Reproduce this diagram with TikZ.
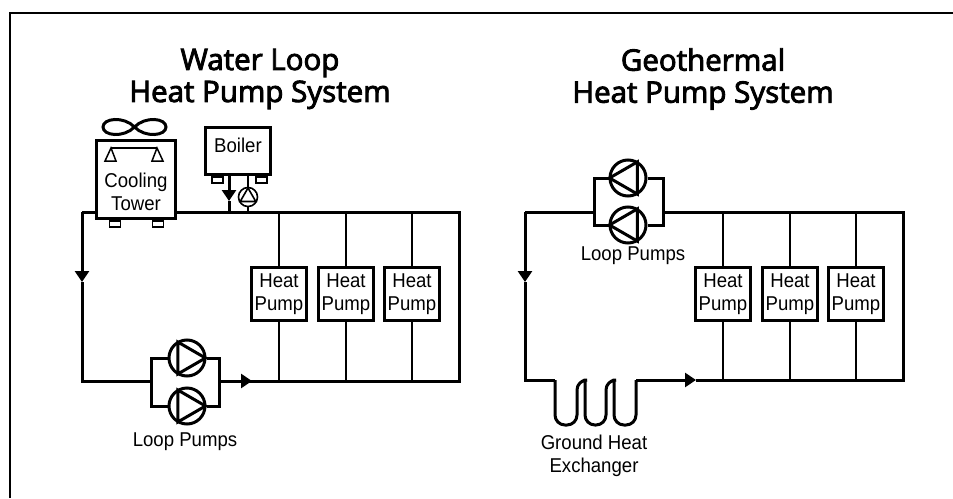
\documentclass[tikz,border=0pt]{standalone}
\usepackage{fontspec}
\setmainfont[FakeStretch=0.93]{Liberation Sans}
\newfontfamily\titlefont[FakeBold=3]{Open Sans}
\usetikzlibrary{arrows.meta}
\NewDocumentCommand\pumptri{mm}{%
  \draw[pipe,shift={(#1.center)},rotate=#2] (0:18.5pt) -- (120:18.5pt) -- (240:18.5pt) -- cycle;}
\tikzset{
  pipe/.style={line width=3pt,line join=miter},
  branch/.style={line width=1.6pt},
  flow/.style={pipe,-{Triangle[length=11pt,width=14pt]}},
  unitbox/.style={draw,line width=3pt,fill=white,inner sep=0pt,align=center,
    font=\fontsize{20}{23}\selectfont},
  hpbox/.style={unitbox,line width=3.4pt,minimum width=55pt,minimum height=53pt},
  footbox/.style={draw,line width=1.5pt,fill=white,inner sep=0pt,
    minimum width=11pt,minimum height=6pt,anchor=north},
  pumpnode/.style={draw,circle,line width=3pt,inner sep=0pt,minimum size=36pt},
  labeltext/.style={align=center,font=\fontsize{20}{23}\selectfont},
  titletext/.style={align=center,font=\titlefont\fontsize{29.5}{32}\selectfont},
}
\begin{document}
\begin{tikzpicture}[x=1pt,y=-1pt]
      \useasboundingbox (0,0) rectangle (953,498);
      \draw[line width=2pt] (10,498) -- (10,13) -- (953,13);
      \node[titletext] (watertitle) at (260,79) {Water Loop\\Heat Pump System};
      \node[titletext] (geotitle) at (703,79) {Geothermal\\Heat Pump System};
      % water loop
      \coordinate (wtl) at (82,212);
      \coordinate (wtr) at (459,212);
      \coordinate (wbr) at (459,381);
      \coordinate (wbl) at (82,381);
      \coordinate (wdown) at (82,282);
      \coordinate (wright) at (252,381);
      \coordinate (wleftbus) at (151,381);
      \coordinate (wrightbus) at (219,381);
      \node[pumpnode] (wpumpa) at (187,358) {};
      \node[pumpnode] (wpumpb) at (187,406) {};
      \pumptri{wpumpa}{0}
      \pumptri{wpumpb}{0}
      \node[footbox] (coolfeeta) at (115,220) {};
      \node[footbox] (coolfeetb) at (158,220) {};
      \node[unitbox,minimum width=79pt,minimum height=78pt] (cooling) at (136,179.5) {};
      \node[labeltext] (coolingtext) at (136,192) {Cooling\\Tower};
      \draw[flow] (wtl) -- (wdown);
      \draw[pipe] (wdown) -- (wbl) -- (wleftbus);
      \draw[pipe] (wtl) -- (cooling.west |- wtl);
      \draw[pipe] (cooling.east |- wtl) -- (wtr) -- (wbr) -- (wrightbus);
      \draw[flow] (wrightbus) -- (wright);
      \draw[pipe] (wpumpa.west) -| (wleftbus) |- (wpumpb.west);
      \draw[pipe] (wpumpa.east) -| (wrightbus) |- (wpumpb.east);
      \node[footbox] (boilerfeeta) at (217.5,176) {};
      \node[footbox] (boilerfeetb) at (261.5,176) {};
      \node[unitbox,minimum width=65pt,minimum height=47pt] (boiler) at (238,151) {};
      \node[labeltext] (boilertext) at (238,145) {Boiler};
      \coordinate (boilerout) at (229,176);
      \coordinate (boilertip) at (229,201);
      \coordinate (boilerret) at (229,212);
      \draw[flow] (boilerout) -- (boilertip);
      \draw[pipe] (boilertip) -- (boilerret);
      \node[pumpnode,minimum size=19pt,line width=1.6pt] (bpump) at (248,197) {};
      \draw[line width=1.6pt,shift={(bpump.center)}] (90:9pt) -- (210:9pt) -- (330:9pt) -- cycle;
      \draw[line width=2pt] (bpump.north) -- (bpump.north |- boiler.south);
      \draw[line width=2pt] (bpump.south) -- (bpump.south |- wtl);
      \foreach \name/\x in {hpa/279,hpb/346,hpc/412}{
        \node[hpbox] (\name) at (\x,294) {Heat\\Pump};
        \draw[branch] (\name.north) -- (\name.north |- wtl);
        \draw[branch] (\name.south) -- (\name.south |- wbl);
      }
      % geothermal loop
      \coordinate (gtl) at (525,212);
      \coordinate (gtr) at (903,212);
      \coordinate (gbr) at (903,380);
      \coordinate (gbl) at (525,380);
      \coordinate (gdown) at (525,282);
      \coordinate (gright) at (696,380);
      \coordinate (gleftbus) at (594,212);
      \coordinate (grightbus) at (663,212);
      \coordinate (ghxin) at (555,380);
      \coordinate (ghxout) at (636,380);
      \node[pumpnode] (gpumpa) at (628,178) {};
      \node[pumpnode] (gpumpb) at (628,225) {};
      \pumptri{gpumpa}{180}
      \pumptri{gpumpb}{180}
      \draw[flow] (gtl) -- (gdown);
      \draw[pipe] (gdown) -- (gbl) -- (ghxin);
      \draw[pipe] (gleftbus) -- (gtl);
      \draw[pipe] (grightbus) -- (gtr) -- (gbr) -- (gright);
      \draw[flow] (ghxout) -- (gright);
      \draw[pipe] (gpumpa.west) -| (gleftbus) |- (gpumpb.west);
      \draw[pipe] (gpumpa.east) -| (grightbus) |- (gpumpb.east);
      \draw[pipe,rounded corners=10pt] (ghxin) -- (555,425) -- (577,425) -- (577,380)
        [sharp corners] -- (585,380) [rounded corners=10pt] -- (585,425) -- (606,425) -- (606,380)
        [sharp corners] -- (614,380) [rounded corners=10pt] -- (614,425) -- (636,425) -- (ghxout);
      \foreach \name/\x in {hpd/723,hpe/790,hpf/856}{
        \node[hpbox] (\name) at (\x,294) {Heat\\Pump};
        \draw[branch] (\name.north) -- (\name.north |- gtl);
        \draw[branch] (\name.south) -- (\name.south |- gbl);
      }
      % fan and spray bar
      \draw[pipe] (134.5,127) .. controls (124,116) and (103,118) .. (103,127)
        .. controls (103,136) and (124,138) .. (134.5,127)
        .. controls (145,116) and (166,118) .. (166,127)
        .. controls (166,136) and (145,138) .. (134.5,127);
      \draw[line width=1.5pt] (105,161) -- (111,148) -- (116,161) -- cycle;
      \draw[line width=1.5pt] (152,161) -- (157,148) -- (163,161) -- cycle;
      \draw[line width=1.5pt] (111,148) -- (157,148);
      \node[labeltext] (wpumptext) at (185,442) {Loop Pumps};
      \node[labeltext] (gpumptext) at (633,256) {Loop Pumps};
      \node[labeltext] (ghxtext) at (594,456) {Ground Heat\\Exchanger};
    \end{tikzpicture}
\end{document}
